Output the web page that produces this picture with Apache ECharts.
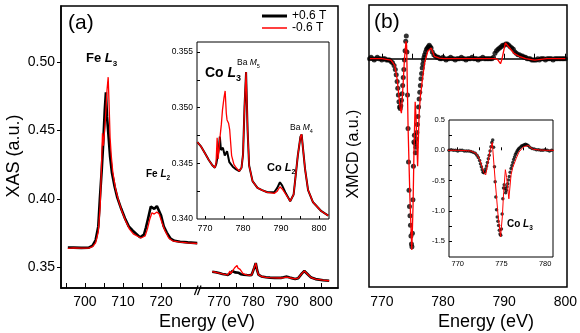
<!DOCTYPE html>
<html><head><meta charset="utf-8">
<script src="https://cdn.jsdelivr.net/npm/echarts@6/dist/echarts.min.js"></script>
<style>html,body{margin:0;padding:0;background:#fff}#c{width:580px;height:333px}</style>
</head><body><div id="c"></div>
<script>
// ---------- Panel (a): Fe L edge, +0.6 T (black) ----------
const feE_black = [695.5,697,699,701,702,702.8,703.5,703.9,704.4,704.8,705.2,705.5,705.8,706.2,706.6,707.1,707.8,708.5,709.5,710.5,711.5,712.5,713.5,714.5,715,715.5,716,716.6,717.3,717.6,718.2,718.9,719.3,720,720.7,721.5,722.5,723.5,725,727,729.5];
const feBlack   = [0.3645,0.3645,0.3643,0.3645,0.3660,0.3700,0.3800,0.3995,0.4210,0.4410,0.4650,0.4780,0.4600,0.4456,0.4310,0.4190,0.4090,0.4010,0.3930,0.3860,0.3800,0.3770,0.3745,0.3720,0.3715,0.3740,0.3790,0.3860,0.3945,0.3955,0.3928,0.3948,0.3940,0.3880,0.3800,0.3755,0.3710,0.3695,0.3688,0.3683,0.3678];
// Fe L edge, -0.6 T (red)
const feE_red = [695.5,697,699,701,702,702.8,703.5,704,704.4,704.6,704.85,705.3,705.8,706.1,706.35,706.6,706.9,707.3,708,708.8,709.7,710.7,711.7,712.7,713.7,714.7,715.2,715.8,716.4,717,717.6,718.2,718.9,719.5,720.2,721,722,723,725,727,729.5];
const feRed   = [0.3640,0.3643,0.3642,0.3642,0.3652,0.3680,0.3760,0.3950,0.4300,0.4480,0.4390,0.4550,0.4800,0.4890,0.4680,0.4450,0.4320,0.4200,0.4080,0.3990,0.3910,0.3840,0.3780,0.3745,0.3730,0.3715,0.3712,0.3730,0.3780,0.3850,0.3900,0.3890,0.3905,0.3890,0.3830,0.3770,0.3715,0.3695,0.3685,0.3680,0.3675];

// Co L / Ba M region (used by the broken-axis part and the inset)
const coE_black = [768,769,770,771,772,772.6,773.0,773.3,773.6,773.9,774.2,774.7,775.2,775.8,776.4,777.3,778.2,779,779.6,780.0,780.4,780.8,781.2,781.6,782.5,783.8,785,786.4,788.2,789,789.7,790.3,791.1,792.4,793.3,794.4,795.1,795.4,796.3,797.1,798.4,800.6,802.4];
const coBlack   = [0.3469,0.3465,0.3459,0.3453,0.3448,0.3446,0.3450,0.3456,0.3462,0.3474,0.3462,0.3464,0.3457,0.3461,0.3451,0.3447,0.34445,0.3443,0.3446,0.3458,0.3501,0.3532,0.3480,0.3448,0.3434,0.3428,0.3426,0.3424,0.3424,0.3428,0.3433,0.3430,0.3424,0.3416,0.3422,0.3457,0.3474,0.3476,0.3445,0.3426,0.3415,0.3407,0.3403];
const coE_red = [768,769,770,771,772,772.6,772.9,773.2,773.45,773.9,774.3,774.6,775.0,775.3,775.6,775.8,776.2,776.5,777.0,777.6,778.2,779,779.6,780.0,780.4,780.8,781.2,781.6,782.5,783.8,785,786.4,788.2,789,789.7,790.3,791.1,792.4,793.3,794.4,795.1,795.4,796.3,797.1,798.4,800.6,802.4];
const coRed   = [0.3469,0.3465,0.3459,0.3453,0.3448,0.3446,0.3450,0.3473,0.3454,0.3472,0.3485,0.3498,0.3509,0.3515,0.3495,0.3489,0.3486,0.3480,0.3457,0.3449,0.3446,0.3443,0.3446,0.3458,0.3501,0.3532,0.3480,0.3448,0.3434,0.3428,0.3426,0.3424,0.3423,0.3425,0.3429,0.3427,0.3423,0.3416,0.3422,0.3457,0.3474,0.3476,0.3445,0.3426,0.3415,0.3407,0.3403];

// ---------- Panel (b): XMCD ----------
const xmcdE = [
 768,768.25,768.5,768.75,769,769.25,769.5,769.75,770,770.25,770.5,770.75,771,771.25,771.5,771.75,
 772,772.2,772.35,772.5,772.6,772.7,772.8,772.9,773,773.1,773.2,773.3,773.4,773.5,773.6,773.7,773.8,773.9,
 774,774.1,774.2,774.28,774.36,774.44,774.52,774.6,774.68,774.76,774.84,774.92,
 775,775.08,775.16,775.24,775.32,775.4,775.48,775.56,775.64,775.72,775.8,775.9,
 776,776.1,776.2,776.3,776.4,776.5,776.6,776.7,776.8,776.9,
 777,777.15,777.3,777.45,777.6,777.75,777.9,778.05,778.25,778.5,778.75,
 779,779.25,779.5,779.75,780,780.25,780.5,780.75,781,781.25,781.5,781.75,782,782.25,782.5,782.75,783,783.25,783.5,783.75,784,784.25,784.5,784.75,785,785.25,785.5,785.75,786,786.25,786.5,786.75,787,787.25,787.5,787.75,788,
 788.25,788.5,788.75,789,789.25,789.5,789.75,790,790.25,790.5,790.75,791,791.25,791.5,791.75,792,792.25,792.5,792.75,793,793.25,
 793.5,793.75,794,794.25,794.5,794.75,795,795.25,795.5,795.75,796,796.25,796.5,796.75,797,797.25,797.5,797.75,798,798.25,798.5,798.75,799,799.25,799.5,799.75,800];
const xmcdBlack = [
 0.00,0.01,0.00,-0.01,0.00,0.01,0.00,0.00,-0.01,0.00,0.00,-0.01,-0.01,-0.01,-0.02,-0.03,
 -0.05,-0.08,-0.12,-0.17,-0.22,-0.27,-0.32,-0.36,-0.37,-0.35,-0.31,-0.26,-0.20,-0.14,-0.08,-0.01,0.06,0.13,
 0.17,0.05,-0.27,-0.52,-0.77,-0.98,-1.10,-1.17,-1.24,-1.32,-1.38,-1.40,
 -1.30,-1.05,-0.80,-0.62,-0.57,-0.63,-0.70,-0.66,-0.60,-0.55,-0.49,-0.43,
 -0.36,-0.30,-0.25,-0.20,-0.15,-0.11,-0.07,-0.04,-0.01,0.01,
 0.03,0.05,0.07,0.08,0.09,0.10,0.09,0.08,0.05,0.03,0.02,
 0.01,0.01,0.00,0.00,0.01,0.00,-0.01,0.00,0.00,0.01,0.00,0.00,-0.01,0.00,0.00,0.00,0.01,0.00,0.00,-0.01,0.00,0.00,0.00,0.01,0.00,0.00,0.00,-0.01,0.00,0.00,0.01,0.00,0.00,0.00,0.00,0.00,0.00,
 0.01,0.04,0.06,0.07,0.08,0.09,0.10,0.10,0.11,0.11,0.10,0.09,0.08,0.07,0.05,0.04,0.03,0.03,0.02,0.02,0.01,
 0.01,0.00,0.00,0.00,-0.01,-0.01,-0.01,-0.01,0.00,-0.01,0.00,0.00,0.00,-0.01,0.00,0.00,0.00,0.00,-0.01,0.00,0.00,0.00,0.00,0.00,0.00,0.00,0.00];
const xmcdE_red = [768,770,771.5,772.1,772.5,772.8,773.0,773.2,773.45,773.7,773.95,774.05,774.3,774.6,774.9,775.1,775.25,775.45,775.6,775.85,776.1,776.3,776.7,777.0,777.5,778.06,778.6,779.4,780.2,783,786,788.5,788.9,789.4,789.6,790.2,790.9,791.6,792.6,793.5,795,797,800];
const xmcdRed   = [0.00,0.00,-0.01,-0.05,-0.15,-0.28,-0.37,-0.405,-0.21,0.00,0.13,0.10,-0.53,-1.05,-1.425,-1.10,-0.70,-0.32,-0.45,-0.80,-0.405,-0.28,-0.13,-0.03,0.055,0.08,0.017,0.005,0.00,0.00,0.00,0.00,-0.005,-0.037,-0.01,0.117,0.08,0.04,0.015,0.00,-0.01,0.00,0.00];

// ---------- tick positions / labels ----------
const feTicks = [695,700,705,710,715,720,725];
const feLabels = [700,710,720];
const coTicks = [770,775,780,785,790,795,800];
const coLabels = [770,780,790,800];
const xasTicks = [0.35,0.40,0.45,0.50];
const insetATicksY = [0.3425,0.345,0.3475,0.350,0.3525,0.355];
const insetALabelsY = [0.340,0.345,0.350,0.355];
const insetBTicksX = [770,772.5,775,777.5,780];
const insetBLabelsX = [770,775,780];
const insetBTicksY = [-1.5,-1.25,-1.0,-0.75,-0.5,-0.25,0,0.25];
const insetBLabelsY = [-1.5,-1.0,-0.5,0.0,0.5];
const legendNames = ['+0.6 T','-0.6 T'];

const FONT = '"Liberation Sans", Arial, Helvetica, sans-serif';
const BLACK = '#000000', RED = '#ff0000';
function zip(e, v) { return e.map((x, i) => [x, v[i]]); }

function xAx(grid, min, max, ticks, labels, o) {
  return {
    type: 'value', gridIndex: grid, min: min, max: max,
    splitLine: {show: false},
    axisLine: {show: o.line !== false, lineStyle: {color: BLACK, width: o.lw || 1.5}},
    axisTick: {show: true, inside: true, length: o.tl, customValues: ticks, lineStyle: {color: BLACK, width: 1}},
    axisLabel: {show: true, customValues: labels, fontSize: o.fs, margin: o.m, color: BLACK, fontFamily: FONT,
      formatter: o.fmt || (v => String(v))}
  };
}
function yAx(grid, min, max, ticks, labels, o) {
  if (!ticks) return {type: 'value', gridIndex: grid, min: min, max: max, show: false, splitLine: {show: false}};
  return {
    type: 'value', gridIndex: grid, min: min, max: max,
    splitLine: {show: false},
    axisLine: {show: o.line !== false, lineStyle: {color: BLACK, width: o.lw || 1.5}},
    axisTick: {show: true, inside: !!o.inside, length: o.tl, customValues: ticks, lineStyle: {color: BLACK, width: 1}},
    axisLabel: {show: true, customValues: labels, fontSize: o.fs, margin: o.m, color: BLACK, fontFamily: FONT, formatter: o.fmt}
  };
}
function lineS(name, xi, data, color, w, z) {
  return {name: name, type: 'line', xAxisIndex: xi, yAxisIndex: xi, data: data, symbol: 'none',
    showSymbol: false, lineStyle: {color: color, width: w}, itemStyle: {color: color}, z: z,
    animation: false, clip: true};
}
function dotS(name, xi, data, size, z) {
  return {name: name, type: 'scatter', xAxisIndex: xi, yAxisIndex: xi, data: data, symbol: 'circle',
    symbolSize: size, itemStyle: {color: BLACK}, z: z, animation: false, clip: true};
}
function label(x, y, parts, fs, subfs, bold) {
  const fw = bold ? 'bold' : 'normal';
  return {type: 'text', left: x, top: y, z: 100,
    style: {text: parts, fill: BLACK,
      rich: {
        n: {fontSize: fs, fontWeight: fw, fontFamily: FONT, lineHeight: fs + 6, fill: BLACK},
        i: {fontSize: fs, fontWeight: fw, fontStyle: 'italic', fontFamily: FONT, lineHeight: fs + 6, fill: BLACK},
        s: {fontSize: subfs, fontWeight: fw, fontFamily: FONT, lineHeight: subfs, verticalAlign: 'bottom', fill: BLACK}
      }}};
}

const chart = echarts.init(document.getElementById('c'), null, {renderer: 'canvas'});
chart.setOption({
  animation: false,
  backgroundColor: '#ffffff',
  textStyle: {fontFamily: FONT},
  legend: {
    data: [
      {name: legendNames[0], icon: 'path://M0,0H25V3H0Z', itemStyle: {color: BLACK}},
      {name: legendNames[1], icon: 'path://M0,0H25V1.5H0Z', itemStyle: {color: RED}}
    ],
    orient: 'vertical', left: 262, top: 10, padding: 0, itemGap: 0,
    itemWidth: 25, itemHeight: 14, symbolKeepAspect: true,
    textStyle: {fontSize: 12, color: BLACK, fontFamily: FONT}, selectedMode: false},
  grid: [
    {left: 61, top: 6, width: 137, height: 282},
    {left: 200, top: 6, width: 138, height: 282},
    {left: 197, top: 42, width: 132, height: 177, show: true, borderColor: BLACK, borderWidth: 1, backgroundColor: 'transparent'},
    {left: 369, top: 5, width: 198, height: 282},
    {left: 449, top: 120, width: 104, height: 137, show: true, borderColor: BLACK, borderWidth: 1, backgroundColor: 'transparent'}
  ],
  xAxis: [
    xAx(0, 693.7, 729.7, feTicks, feLabels, {tl: 5, fs: 14, m: 7}),
    xAx(1, 764.4, 805, coTicks, coLabels, {tl: 5, fs: 14, m: 7}),
    xAx(2, 767.9, 802.6, coTicks, coLabels, {tl: 3, fs: 9, m: 5, line: false}),
    xAx(3, 767.9, 800, coTicks, coLabels, {tl: 5, fs: 14, m: 8}),
    xAx(4, 769, 780.9, insetBTicksX, insetBLabelsX, {tl: 3, fs: 7.5, m: 3, line: false})
  ],
  yAxis: [
    yAx(0, 0.335, 0.541, xasTicks, xasTicks, {tl: 4, fs: 14, m: 6, fmt: v => v.toFixed(2)}),
    yAx(1, 0.335, 0.541),
    yAx(2, 0.340, 0.3559, insetATicksY, insetALabelsY, {tl: 3, fs: 8.5, m: 4, inside: true, line: false, fmt: v => v.toFixed(3)}),
    yAx(3, -1.70, 0.40),
    yAx(4, -1.76, 0.5, insetBTicksY, insetBLabelsY, {tl: 3, fs: 7.5, m: 4, inside: true, line: false, fmt: v => v.toFixed(1)})
  ],
  series: [
    lineS(legendNames[0], 0, zip(feE_black, feBlack), BLACK, 2.6, 2),
    lineS(legendNames[1], 0, zip(feE_red, feRed), RED, 1.3, 3),
    lineS(legendNames[0], 1, zip(coE_black, coBlack), BLACK, 2.6, 2),
    lineS(legendNames[1], 1, zip(coE_red, coRed), RED, 1.3, 3),
    lineS(legendNames[0], 2, zip(coE_black, coBlack), BLACK, 2, 2),
    lineS(legendNames[1], 2, zip(coE_red, coRed), RED, 1.3, 3),
    dotS(legendNames[0], 3, zip(xmcdE, xmcdBlack), 5, 2),
    lineS(legendNames[1], 3, zip(xmcdE_red, xmcdRed), RED, 1.3, 3),
    dotS(legendNames[0], 4, zip(xmcdE, xmcdBlack), 3.5, 2),
    lineS(legendNames[1], 4, zip(xmcdE_red, xmcdRed), RED, 1, 3)
  ],
  graphic: [
    {type: 'rect', z: 100, shape: {x: 61, y: 6, width: 277, height: 282}, style: {fill: 'none', stroke: BLACK, lineWidth: 1.5}},
    {type: 'rect', z: 100, shape: {x: 369, y: 5, width: 198, height: 282}, style: {fill: 'none', stroke: BLACK, lineWidth: 1.5}},
    {type: 'line', z: 100, shape: {x1: 194.5, y1: 295, x2: 198, y2: 285.5}, style: {stroke: BLACK, lineWidth: 1.2}},
    {type: 'line', z: 100, shape: {x1: 197.5, y1: 295, x2: 201, y2: 285.5}, style: {stroke: BLACK, lineWidth: 1.2}},
    {type: 'text', left: 68, top: 13, z: 100, style: {text: '(a)', fontSize: 21, fontFamily: FONT, fill: BLACK}},
    {type: 'text', left: 374, top: 12, z: 100, style: {text: '(b)', fontSize: 21, fontFamily: FONT, fill: BLACK}},
    {type: 'text', x: 14, y: 156, rotation: Math.PI / 2, z: 100,
      style: {text: 'XAS (a.u.)', fontSize: 18, fontFamily: FONT, fill: BLACK, align: 'center', verticalAlign: 'middle'}},
    {type: 'text', x: 354, y: 154, rotation: Math.PI / 2, z: 100,
      style: {text: 'XMCD (a.u.)', fontSize: 16, fontFamily: FONT, fill: BLACK, align: 'center', verticalAlign: 'middle'}},
    {type: 'text', x: 207, y: 322, z: 100,
      style: {text: 'Energy (eV)', fontSize: 18, fontFamily: FONT, fill: BLACK, align: 'center', verticalAlign: 'middle'}},
    {type: 'text', x: 486, y: 322, z: 100,
      style: {text: 'Energy (eV)', fontSize: 18, fontFamily: FONT, fill: BLACK, align: 'center', verticalAlign: 'middle'}},
    label(86, 52, '{n|Fe }{i|L}{s|3}', 13, 8, true),
    label(146, 169, '{n|Fe }{i|L}{s|2}', 10, 6.5, true),
    label(205, 66, '{n|Co }{i|L}{s|3}', 14, 9, true),
    label(237, 58, '{n|Ba }{i|M}{s|5}', 8.5, 5.5, false),
    label(290, 123, '{n|Ba }{i|M}{s|4}', 8.5, 5.5, false),
    label(267, 162, '{n|Co }{i|L}{s|2}', 11, 7, true),
    label(507, 219, '{n|Co }{i|L}{s|3}', 10, 6.5, true)
  ]
});
</script>
</body></html>
